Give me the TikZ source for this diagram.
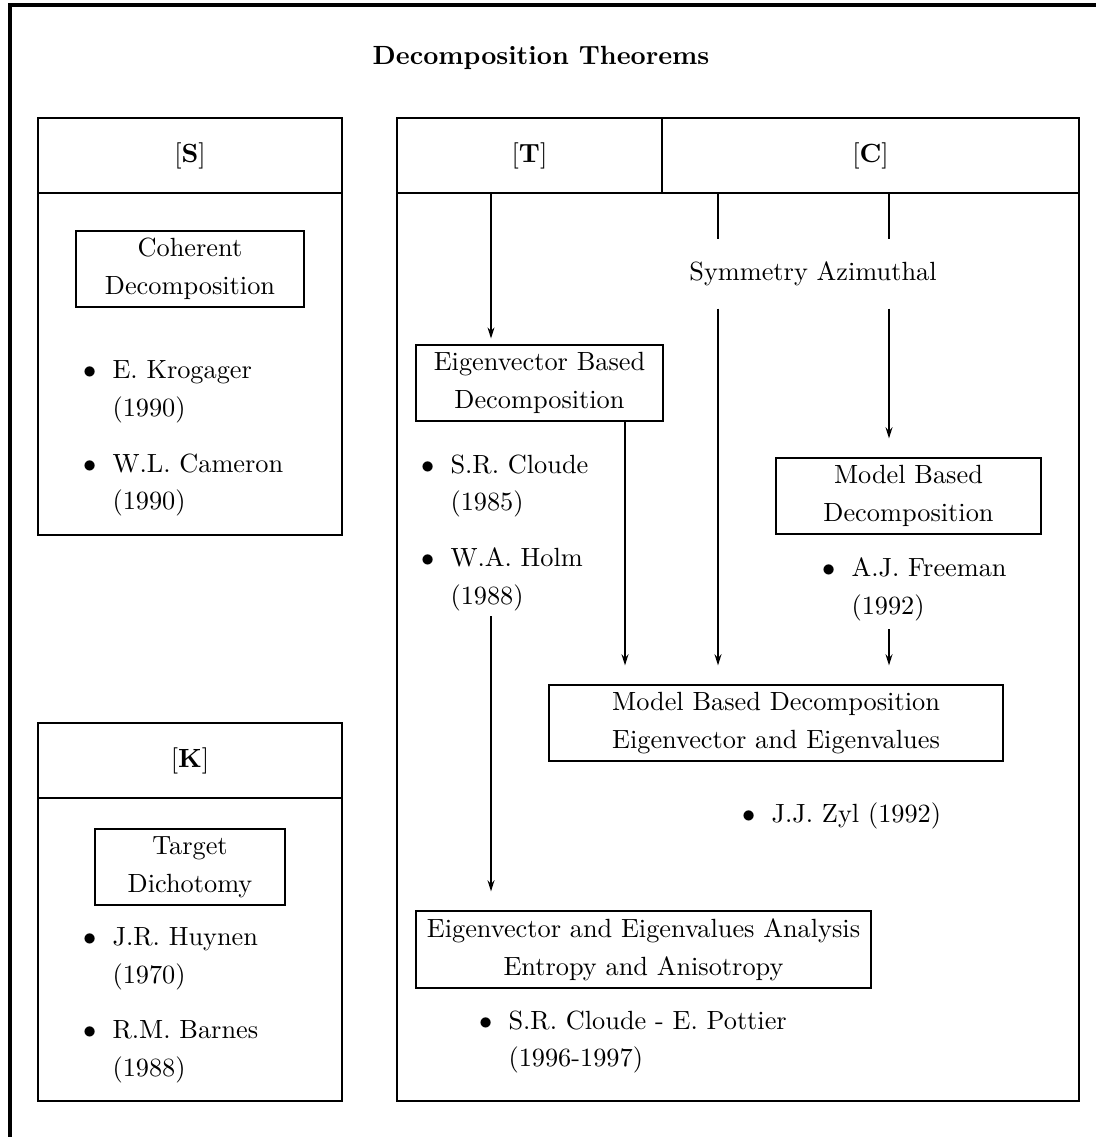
\documentclass[tikz,border=0pt]{standalone}
\usepackage{tikz}
\usetikzlibrary{arrows.meta,positioning,calc}

\newcommand{\pxu}{0.38pt}
\newcommand{\bitem}[2]{\llap{$\bullet$\hspace{0.62em}}#1\\#2}

\begin{document}
\begin{tikzpicture}[
    x=0.38pt,
    y=-0.38pt,
    font=\fontsize{10}{14.4}\selectfont,
    >={Stealth[length=4.2pt,width=2.6pt]},
    frame/.style={
        line width=1.5pt
    },
    panel/.style 2 args={
        draw,
        line width=0.9pt,
        inner sep=0pt,
        minimum width=#1*\pxu,
        minimum height=#2*\pxu
    },
    box/.style 2 args={
        draw,
        line width=0.9pt,
        align=center,
        inner sep=0pt,
        minimum width=#1*\pxu,
        minimum height=#2*\pxu
    },
    item/.style={
        align=left,
        anchor=west,
        inner sep=0pt
    },
    flow/.style={
        ->,
        line width=0.9pt,
        shorten >=7pt
    },
    link/.style={
        line width=0.9pt
    }
]
\useasboundingbox (0,0) rectangle (1096,1137);

% Outer frame, cut by the page on the right and at the bottom
\coordinate (fbl) at (10,1137);
\coordinate (ftr) at (1096,5);
\draw[frame] (fbl) |- (ftr);

\node[font=\fontsize{10}{12}\selectfont\bfseries] (title) at (541,58)
    {Decomposition Theorems};


% Panel [S] --- coherent decomposition
\node[panel={304}{75}]  (shead) at (190,155.5) {[\textbf{S}]};
\node[panel={304}{342}] (sbody) at (190,364) {};

\node[box={228}{76}] (coh) at (190,269) {Coherent\\Decomposition};
\node[item] (kro) at (112,392) {\bitem{E. Krogager}{(1990)}};
\node[item] (cam) at (112,485) {\bitem{W.L. Cameron}{(1990)}};


% Panel [K] --- target dichotomy
\node[panel={304}{75}]  (khead) at (190,760.5) {[\textbf{K}]};
\node[panel={304}{303}] (kbody) at (190,949.5) {};

\node[box={190}{76}] (tgt) at (190,867) {Target\\Dichotomy};
\node[item] (huy) at (112,959) {\bitem{J.R. Huynen}{(1970)}};
\node[item] (bar) at (112,1052) {\bitem{R.M. Barnes}{(1988)}};


% Panel [T] | [C] --- the incoherent decompositions
\node[panel={265}{75}]  (thead) at (529.5,155.5) {[\textbf{T}]};
\node[panel={417}{75}]  (chead) at (870.5,155.5) {[\textbf{C}]};
\node[panel={682}{908}] (rbody) at (738,647) {};

\node[minimum height=68*\pxu, inner sep=0pt] (sym) at (813,274)
    {Symmetry Azimuthal};

\node[box={247}{76}] (eig) at (539.5,383)
    {Eigenvector Based\\Decomposition};
\node[item] (clo) at (450,486) {\bitem{S.R. Cloude}{(1985)}};
\node[item] (hol) at (450,579) {\bitem{W.A. Holm}{(1988)}};

\node[box={265}{76}] (mbd) at (908.5,496)
    {Model Based\\Decomposition};
\node[item] (fre) at (851,589) {\bitem{A.J. Freeman}{(1992)}};

\node[box={454}{76}] (mbe) at (776,723)
    {Model Based Decomposition\\Eigenvector and Eigenvalues};
\node[item] (zyl) at (771,816) {\llap{$\bullet$\hspace{0.62em}}J.J. Zyl (1992)};

\node[box={455}{77}] (eea) at (643.5,949.5)
    {Eigenvector and Eigenvalues Analysis\\Entropy and Anisotropy};
\node[item] (pot) at (508,1042) {\bitem{S.R. Cloude - E. Pottier}{(1996-1997)}};


% Columns the connectors run down
\coordinate (tx) at (491,0);
\coordinate (ex) at (625,0);
\coordinate (sx) at (718,0);
\coordinate (cx) at (889,0);

\draw[flow, shorten >=2pt] (thead.south -| tx) -- (eig.north -| tx);
\draw[flow, shorten <=2pt] (hol.south -| tx) -- (eea.north -| tx);

\draw[link] (chead.south -| sx) -- (sym.north -| sx);
\draw[link] (chead.south -| cx) -- (sym.north -| cx);

\draw[flow] (sym.south -| sx) -- (mbe.north -| sx);
\draw[flow] (sym.south -| cx) -- (mbd.north -| cx);
\draw[flow] (eig.south -| ex) -- (mbe.north -| ex);
\draw[flow, shorten <=3pt] (fre.south -| cx) -- (mbe.north -| cx);

\end{tikzpicture}
\end{document}
